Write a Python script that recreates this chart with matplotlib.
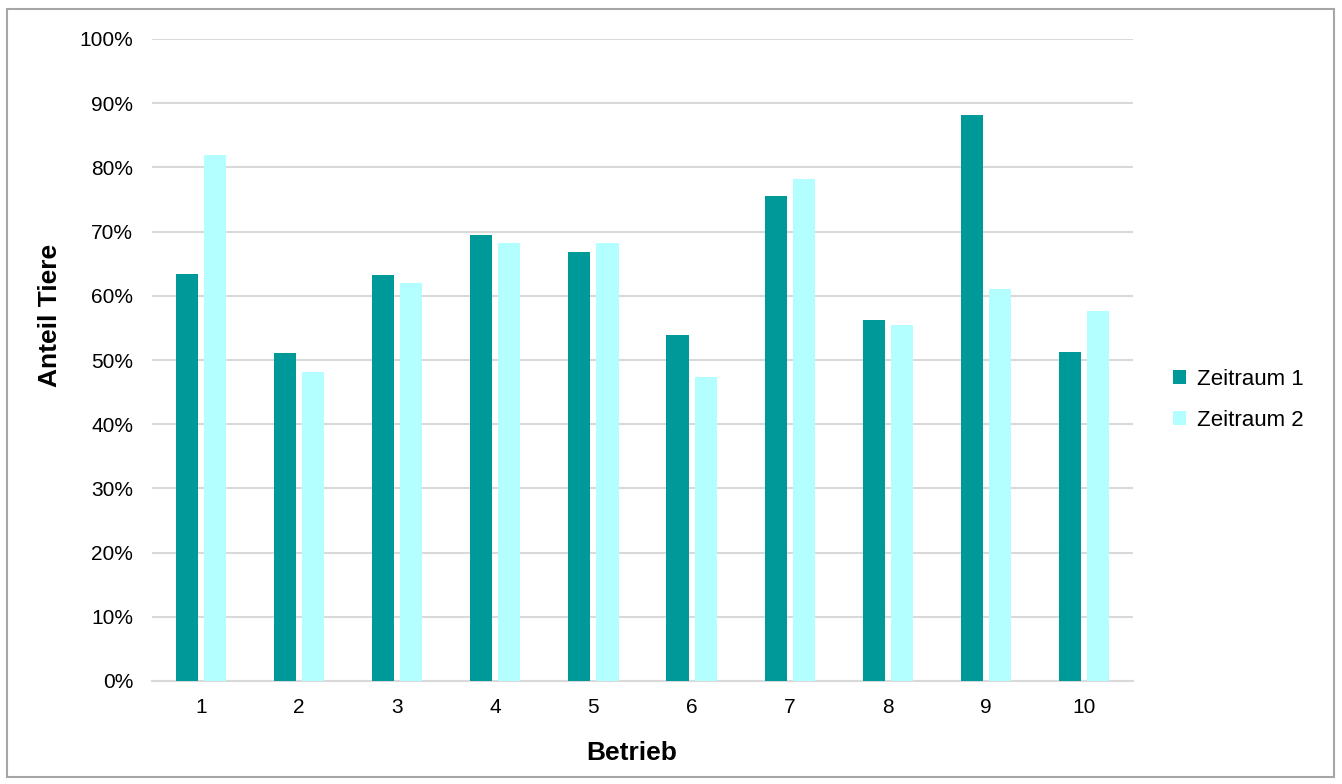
import numpy as np
import matplotlib.pyplot as plt
from matplotlib.patches import Rectangle

plt.rcParams['font.family'] = ['Liberation Sans', 'DejaVu Sans']

betriebe = ['1', '2', '3', '4', '5', '6', '7', '8', '9', '10']
zeitraum_1 = [63.4, 51.1, 63.2, 69.5, 66.8, 53.9, 75.5, 56.2, 88.2, 51.2]
zeitraum_2 = [81.9, 48.1, 62.0, 68.2, 68.2, 47.4, 78.2, 55.5, 61.1, 57.6]

W, H = 1342, 784
fig = plt.figure(figsize=(W / 100, H / 100), dpi=100)
ax = fig.add_axes([152 / W, 1 - 681 / H, (1133 - 152) / W, (681 - 39) / H])

x = np.arange(len(betriebe))
bw = 0.225
ax.bar(x - 0.143, zeitraum_1, bw, color='#009999', label='Zeitraum 1', zorder=3)
ax.bar(x + 0.143, zeitraum_2, bw, color='#b3ffff', label='Zeitraum 2', zorder=3)

ax.set_xlim(-0.5, len(betriebe) - 0.5)
ax.set_ylim(0, 100)
ax.set_yticks(np.arange(0, 101, 10))
ax.set_yticklabels([f'{v}%' for v in range(0, 101, 10)])
ax.set_xticks(x)
ax.set_xticklabels(betriebe)
ax.tick_params(axis='both', length=0, labelsize=15, colors='#000000')
ax.tick_params(axis='y', pad=13.5)
ax.tick_params(axis='x', pad=12)

ax.grid(axis='y', color='#d9d9d9', linewidth=1.5, zorder=0)
for s in ['top', 'right', 'left']:
    ax.spines[s].set_visible(False)
ax.spines['bottom'].set_color('#d9d9d9')
ax.spines['bottom'].set_linewidth(1.5)

ax.set_xlabel('Betrieb', fontsize=19, fontweight='bold')
ax.xaxis.set_label_coords(0.489, -0.093)
ax.set_ylabel('Anteil Tiere', fontsize=19, fontweight='bold')
ax.yaxis.set_label_coords(-0.0915, 0.57)

ax.legend(loc='center left', bbox_to_anchor=(1.02, 0.4377), frameon=False,
          fontsize=16, handlelength=0.6, handleheight=0.6, handletextpad=0.5,
          labelspacing=0.9)

fig.patches.append(Rectangle((7 / W, 1 - 777 / H), (1334 - 7) / W, (777 - 9) / H,
                             transform=fig.transFigure, fill=False,
                             edgecolor='#a6a6a6', linewidth=1.5))

fig.savefig('out.png', dpi=100)
